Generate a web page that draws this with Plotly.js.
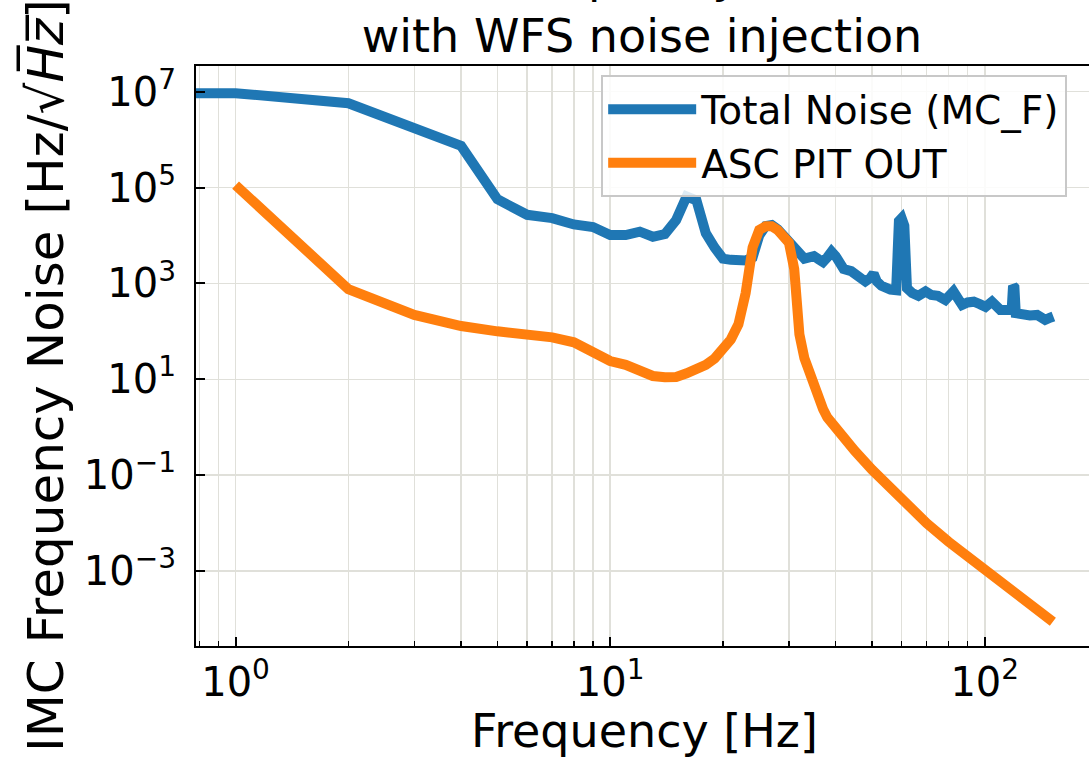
<!DOCTYPE html>
<html>
<head>
<meta charset="utf-8">
<script src="https://cdn.plot.ly/plotly-3.0.1.min.js"></script>
<style>
html,body{margin:0;padding:0;overflow:hidden;background:#fff;width:1089px;height:758px;}
#chart{position:absolute;left:0;top:-40px;width:1100px;height:798px;}
</style>
</head>
<body>
<div id="chart"></div>
<script>
// Total Noise (MC_F)
const freqTotal = [0.5,1,2,3,4,5,6,7,8,9,10,11,12,13,14,15,16,17,18,19,20,21,22,23,24,25,26,27,28,29,30,31,32,33,34,35,36,37,38,39,40,41,42,44,46,48,49.5,50.5,51.5,53,56,58,59,60,61,62,64,66.5,69.5,72,75,78.5,82.5,85,87,90,93.5,97,100.5,104.5,107,110,115,118,119,120,121,126,132,138,142,145,149,152.5];
const noiseTotal = [9.3e6,9.3e6,5.75e6,1.74e6,7.4e5,5.7e4,2.7e4,2.3e4,1.7e4,1.5e4,1.02e4,1.02e4,1.2e4,9.4e3,1.07e4,2.1e4,6.5e4,5.4e4,1.12e4,5.6e3,3.3e3,3.1e3,3.2e3,3.0e3,3.5e3,1.0e4,1.58e4,1.66e4,1.35e4,1.0e4,7.9e3,5.2e3,4.0e3,3.3e3,3.5e3,3.7e3,3.2e3,2.8e3,3.5e3,4.6e3,3.7e3,2.5e3,2.0e3,1.8e3,1.3e3,1.1e3,1.3e3,1.6e3,1.1e3,890,740,720,2.0e4,2.3e4,1.6e4,790,630,550,680,575,550,450,680,400,355,400,415,370,325,415,316,280,280,282,890,830,240,220,214,220,190,174,190,204];
// ASC PIT OUT
const freqAsc = [1,2,3,4,5,6,7,8,9,10,11,12,13,14,15,16,17,18,19,20,21,22,23,24,25,26,27,28,29,30,31,32,33,34,35,36,37,38,39,40,45,50,60,70,80,90,100,110,120,130,140,152];
const noiseAsc = [1.12e5,760,220,129,100,91,75,59,39,24,20,16,11.7,11,11.2,13.3,16,20,27,41,68,140,630,5.6e3,1.3e4,1.55e4,1.55e4,1.3e4,9.8e3,7.1e3,2.0e3,87,27.5,13.5,6.6,4.1,2.4,1.6,1.23,0.95,0.32,0.13,0.030,9.9e-3,4.1e-3,2.0e-3,1.08e-3,6.2e-4,3.6e-4,2.2e-4,1.45e-4,8.7e-5];

const seriesNames = ['Total Noise (MC_F)', 'ASC PIT OUT'];
const titleText = 'IMC Frequency Noise<br>with WFS noise injection';
const xTitle = 'Frequency [Hz]';
const yTitle = 'IMC Frequency Noise [Hz/\u221A<i>H\u0305z\u0305</i>]';
const xTickVals = [1, 10, 100];
const xTickText = ['10<sup>0</sup>', '10<sup>1</sup>', '10<sup>2</sup>'];
const xMinorVals = [0.8,0.9,2,3,4,5,6,7,8,9,20,30,40,50,60,70,80,90];
const yTickVals = [1e-3, 1e-1, 1e1, 1e3, 1e5, 1e7];
const yTickText = ['10<sup>\u22123</sup>', '10<sup>\u22121</sup>', '10<sup>1</sup>', '10<sup>3</sup>', '10<sup>5</sup>', '10<sup>7</sup>'];

const FONT = 'DejaVu Sans, sans-serif';
const GRID = '#e0e0da';

const traces = [
  {x: freqTotal, y: noiseTotal, name: seriesNames[0], mode: 'lines', type: 'scatter',
   line: {color: '#1f77b4', width: 10}},
  {x: freqAsc, y: noiseAsc, name: seriesNames[1], mode: 'lines', type: 'scatter',
   line: {color: '#ff7f0e', width: 10}}
];

const layout = {
  width: 1100, height: 798,
  margin: {l: 196, r: 7, t: 106, b: 112},
  paper_bgcolor: '#fff', plot_bgcolor: '#fff',
  font: {family: FONT, color: '#000', size: 40},
  title: {text: titleText, font: {size: 46, family: FONT},
          x: 0.5836, xanchor: 'center', y: 0.96, yref: 'container', yanchor: 'bottom'},
  xaxis: {type: 'log', range: [Math.log10(0.784), 2.289],
          tickmode: 'array', tickvals: xTickVals, ticktext: xTickText,
          ticks: 'inside', ticklen: 9, tickwidth: 2, tickcolor: '#000',
          showline: true, linecolor: '#000', linewidth: 2, mirror: true,
          showgrid: true, gridcolor: GRID, gridwidth: 1.5, zeroline: false,
          ticklabelstandoff: 0,
          minor: {tickmode: 'array', tickvals: xMinorVals, ticks: 'inside', ticklen: 5, tickwidth: 1.5, tickcolor: '#000', showgrid: true, gridcolor: GRID, gridwidth: 1.5},
          tickfont: {size: 40, family: FONT},
          title: {text: xTitle, font: {size: 46, family: FONT}, standoff: 18}},
  yaxis: {type: 'log', range: [-4.565, 7.536],
          tickmode: 'array', tickvals: yTickVals, ticktext: yTickText,
          ticks: 'inside', ticklen: 9, tickwidth: 2, tickcolor: '#000',
          showline: true, linecolor: '#000', linewidth: 2, mirror: true,
          showgrid: true, gridcolor: GRID, gridwidth: 1.5, zeroline: false,
          ticklabelstandoff: 10,
          tickfont: {size: 40, family: FONT}},
  annotations: [
    {text: yTitle, textangle: -90, xref: 'paper', yref: 'paper',
     x: -0.1684, y: 0.467, xanchor: 'center', yanchor: 'middle', showarrow: false,
     font: {size: 50, family: FONT, color: '#000'}}
  ],
  showlegend: true,
  legend: {x: 0.4517, xanchor: 'left', y: 0.984, yanchor: 'top',
           bgcolor: 'rgba(255,255,255,0.85)', bordercolor: '#c8c8c8', borderwidth: 2,
           font: {size: 39, family: FONT}, itemwidth: 88, tracegroupgap: 0}
};

Plotly.newPlot('chart', traces, layout, {displayModeBar: false, staticPlot: true});
</script>
</body>
</html>
